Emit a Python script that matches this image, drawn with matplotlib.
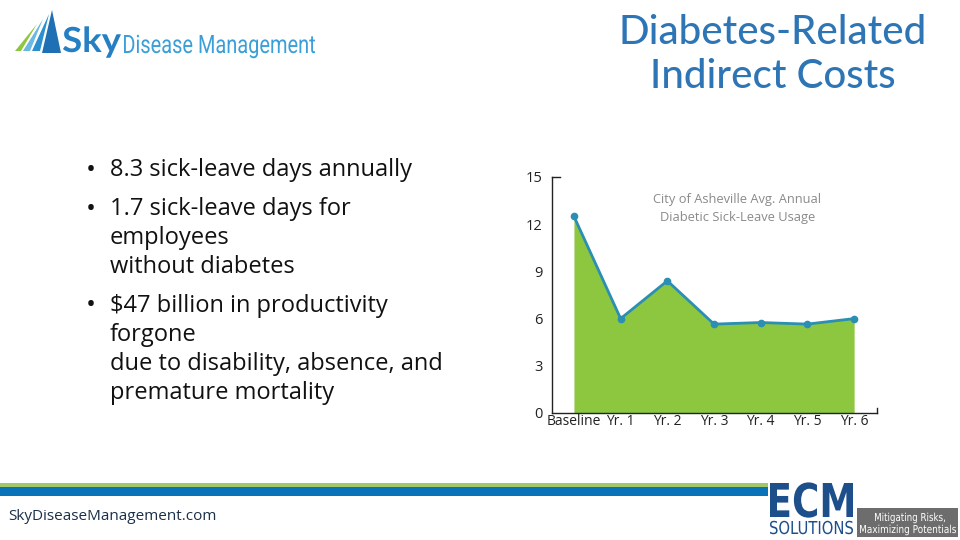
import numpy as np
import matplotlib.pyplot as plt
from matplotlib.patches import Rectangle, Polygon, PathPatch
from matplotlib.textpath import TextPath
from matplotlib.font_manager import FontProperties
from matplotlib.transforms import Affine2D

# chart data
years = ["Baseline", "Yr. 1", "Yr. 2", "Yr. 3", "Yr. 4", "Yr. 5", "Yr. 6"]
sick_days = [12.5, 6.0, 8.4, 5.65, 5.75, 5.65, 6.0]
y_ticks = [0, 3, 6, 9, 12, 15]

bullets = [
    ["8.3 sick-leave days annually"],
    ["1.7 sick-leave days for", "employees", "without diabetes"],
    ["$47 billion in productivity", "forgone", "due to disability, absence, and", "premature mortality"],
]

W, H = 960, 540
fig = plt.figure(figsize=(W / 100, H / 100), dpi=100)
fig.patch.set_facecolor("white")


def fx(x):
    return x / W


def fy(y):
    return 1 - y / H


def squeezed(text, x0, x1, ybase, cap, color, family="DejaVu Sans", weight="normal",
             style="normal"):
    # text squeezed into pixel box: left x0, right x1, baseline ybase, cap height cap
    fp = FontProperties(family=family, weight=weight, style=style)
    tp = TextPath((0, 0), text, size=100, prop=fp)
    ext = tp.get_extents()
    capref = TextPath((0, 0), "H", size=100, prop=fp).get_extents().y1
    sx = (x1 - x0) / ext.width
    sy = cap / capref
    tr = Affine2D().translate(-ext.x0, 0).scale(sx / W, sy / H).translate(fx(x0), fy(ybase))
    fig.patches.append(PathPatch(tr.transform_path(tp), transform=fig.transFigure,
                                 color=color, lw=0))


# title
fig.text(fx(773), fy(32), "Diabetes-Related", color="#2e75b6", fontsize=29,
         family="Lato", weight="medium", ha="center", va="center")
fig.text(fx(773), fy(76), "Indirect Costs", color="#2e75b6", fontsize=29,
         family="Lato", weight="medium", ha="center", va="center")

# logo top-left
squeezed("Sky", 63, 121, 52, 25, "#2580c3", family="Lato", weight="bold")
squeezed("Disease Management", 124, 315, 53, 18, "#3a9fd8", family="Roboto")
stripes = [
    ([(15, 51), (21, 51), (37, 24)], "#8dc63f"),
    ([(23, 51), (30, 51), (43, 19)], "#6bb8e3"),
    ([(32, 51), (40, 51), (49, 14)], "#2b8fd0"),
    ([(42, 53), (61, 53), (52, 10)], "#1f6fb5"),
]
for pts, c in stripes:
    fig.patches.append(Polygon([(fx(a), fy(b)) for a, b in pts], closed=True,
                               transform=fig.transFigure, color=c, lw=0))

# bullets
yy = 170
for item in bullets:
    for i, line in enumerate(item):
        if i == 0:
            fig.text(fx(86), fy(yy), "•", fontsize=19, color="#111111",
                     family="Open Sans", ha="left", va="center")
        fig.text(fx(110), fy(yy), line, fontsize=17,
                 color="#111111", family="Open Sans", ha="left", va="center")
        yy += 29
    yy += 10

# chart
ax = fig.add_axes([fx(552), fy(413), (877 - 552) / W, (413 - 177) / H])
x = np.arange(len(years))
ax.fill_between(x, sick_days, 0, color="#8dc63f", lw=0)
ax.plot(x, sick_days, color="#2a8fb3", lw=2, marker="o", ms=4.5)
ax.set_xlim(-0.47, 6.49)
ax.set_ylim(0, 15)
ax.set_yticks(y_ticks)
ax.set_xticks(x)
ax.set_xticklabels(years)
ax.tick_params(axis="x", length=0, pad=1, labelsize=10, colors="#222222")
ax.tick_params(axis="y", length=0, pad=7, labelsize=10.5, colors="#222222")
for t in ax.get_yticklabels() + ax.get_xticklabels():
    t.set_family("Open Sans")
for s in ["top", "right"]:
    ax.spines[s].set_visible(False)
for s in ["left", "bottom"]:
    ax.spines[s].set_color("#222222")
    ax.spines[s].set_linewidth(1)
# small end ticks
ax.plot([-0.47, -0.3], [15, 15], color="#222222", lw=1, clip_on=False)
ax.plot([6.49, 6.49], [0, 0.3], color="#222222", lw=1, clip_on=False)
ax.text(3.5, 13.0, "City of Asheville Avg. Annual\nDiabetic Sick-Leave Usage",
        ha="center", va="center", fontsize=9.3, color="#8a8a8a",
        family="Open Sans", linespacing=1.45)

# bottom bars
fig.patches.append(Rectangle((0, fy(487)), fx(768), (487 - 483) / H,
                             transform=fig.transFigure, color="#a3c86a", lw=0))
fig.patches.append(Rectangle((0, fy(496)), fx(768), (496 - 487) / H,
                             transform=fig.transFigure, color="#0a72b8", lw=0))
fig.text(fx(8), fy(516), "SkyDiseaseManagement.com", fontsize=11,
         color="#1a2f4a", family="Open Sans", ha="left", va="center")

# ECM logo
squeezed("ECM", 770, 853, 517, 34, "#1d4f8a", family="DejaVu Sans", weight="bold")
squeezed("SOLUTIONS", 770, 853, 534, 13, "#1d4f8a", family="DejaVu Sans")
fig.patches.append(Rectangle((fx(857), fy(537)), (958 - 857) / W, (537 - 508) / H,
                             transform=fig.transFigure, color="#6d6d6d", lw=0))
squeezed("Mitigating Risks,", 875, 945, 521, 8, "white", family="DejaVu Sans")
squeezed("Maximizing Potentials", 860, 956, 533, 8, "white", family="DejaVu Sans")

fig.savefig("out.png", dpi=100)
